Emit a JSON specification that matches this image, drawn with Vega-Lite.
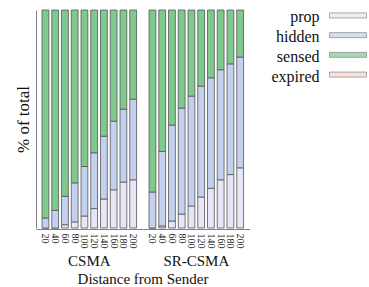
{
  "$schema": "https://vega.github.io/schema/vega-lite/v6.json",
  "padding": {"left": 14, "top": 8, "right": 0, "bottom": 0},
  "config": {
    "font": "Liberation Serif",
    "view": {"stroke": null},
    "axis": {"domainColor": "#808080", "domainWidth": 1, "labelColor": "#222", "titleColor": "#111", "titleFontWeight": "normal"}
  },
  "datasets": {
    "bars": [
      {"protocol": "CSMA", "distance": 20, "category": "prop", "k": 1, "pct": 0},
      {"protocol": "CSMA", "distance": 20, "category": "hidden", "k": 2, "pct": 4.6},
      {"protocol": "CSMA", "distance": 20, "category": "sensed", "k": 3, "pct": 95.4},
      {"protocol": "CSMA", "distance": 40, "category": "prop", "k": 1, "pct": 0},
      {"protocol": "CSMA", "distance": 40, "category": "hidden", "k": 2, "pct": 8.1},
      {"protocol": "CSMA", "distance": 40, "category": "sensed", "k": 3, "pct": 91.9},
      {"protocol": "CSMA", "distance": 60, "category": "prop", "k": 1, "pct": 1.5},
      {"protocol": "CSMA", "distance": 60, "category": "hidden", "k": 2, "pct": 13.0},
      {"protocol": "CSMA", "distance": 60, "category": "sensed", "k": 3, "pct": 85.5},
      {"protocol": "CSMA", "distance": 80, "category": "prop", "k": 1, "pct": 2.8},
      {"protocol": "CSMA", "distance": 80, "category": "hidden", "k": 2, "pct": 17.9},
      {"protocol": "CSMA", "distance": 80, "category": "sensed", "k": 3, "pct": 79.3},
      {"protocol": "CSMA", "distance": 100, "category": "prop", "k": 1, "pct": 5.5},
      {"protocol": "CSMA", "distance": 100, "category": "hidden", "k": 2, "pct": 22.7},
      {"protocol": "CSMA", "distance": 100, "category": "sensed", "k": 3, "pct": 71.8},
      {"protocol": "CSMA", "distance": 120, "category": "prop", "k": 1, "pct": 8.9},
      {"protocol": "CSMA", "distance": 120, "category": "hidden", "k": 2, "pct": 25.6},
      {"protocol": "CSMA", "distance": 120, "category": "sensed", "k": 3, "pct": 65.5},
      {"protocol": "CSMA", "distance": 140, "category": "prop", "k": 1, "pct": 13.3},
      {"protocol": "CSMA", "distance": 140, "category": "hidden", "k": 2, "pct": 28.8},
      {"protocol": "CSMA", "distance": 140, "category": "sensed", "k": 3, "pct": 57.9},
      {"protocol": "CSMA", "distance": 160, "category": "prop", "k": 1, "pct": 17.5},
      {"protocol": "CSMA", "distance": 160, "category": "hidden", "k": 2, "pct": 31.5},
      {"protocol": "CSMA", "distance": 160, "category": "sensed", "k": 3, "pct": 51.0},
      {"protocol": "CSMA", "distance": 180, "category": "prop", "k": 1, "pct": 21.1},
      {"protocol": "CSMA", "distance": 180, "category": "hidden", "k": 2, "pct": 33.4},
      {"protocol": "CSMA", "distance": 180, "category": "sensed", "k": 3, "pct": 45.5},
      {"protocol": "CSMA", "distance": 200, "category": "prop", "k": 1, "pct": 22.1},
      {"protocol": "CSMA", "distance": 200, "category": "hidden", "k": 2, "pct": 37.0},
      {"protocol": "CSMA", "distance": 200, "category": "sensed", "k": 3, "pct": 40.9},
      {"protocol": "SR-CSMA", "distance": 20, "category": "prop", "k": 1, "pct": 0},
      {"protocol": "SR-CSMA", "distance": 20, "category": "hidden", "k": 2, "pct": 16.5},
      {"protocol": "SR-CSMA", "distance": 20, "category": "sensed", "k": 3, "pct": 83.5},
      {"protocol": "SR-CSMA", "distance": 40, "category": "prop", "k": 1, "pct": 0.9},
      {"protocol": "SR-CSMA", "distance": 40, "category": "hidden", "k": 2, "pct": 34.2},
      {"protocol": "SR-CSMA", "distance": 40, "category": "sensed", "k": 3, "pct": 64.9},
      {"protocol": "SR-CSMA", "distance": 60, "category": "prop", "k": 1, "pct": 3.2},
      {"protocol": "SR-CSMA", "distance": 60, "category": "hidden", "k": 2, "pct": 44.0},
      {"protocol": "SR-CSMA", "distance": 60, "category": "sensed", "k": 3, "pct": 52.8},
      {"protocol": "SR-CSMA", "distance": 80, "category": "prop", "k": 1, "pct": 6.4},
      {"protocol": "SR-CSMA", "distance": 80, "category": "hidden", "k": 2, "pct": 48.6},
      {"protocol": "SR-CSMA", "distance": 80, "category": "sensed", "k": 3, "pct": 45.0},
      {"protocol": "SR-CSMA", "distance": 100, "category": "prop", "k": 1, "pct": 10.1},
      {"protocol": "SR-CSMA", "distance": 100, "category": "hidden", "k": 2, "pct": 50.4},
      {"protocol": "SR-CSMA", "distance": 100, "category": "sensed", "k": 3, "pct": 39.5},
      {"protocol": "SR-CSMA", "distance": 120, "category": "prop", "k": 1, "pct": 14.2},
      {"protocol": "SR-CSMA", "distance": 120, "category": "hidden", "k": 2, "pct": 50.9},
      {"protocol": "SR-CSMA", "distance": 120, "category": "sensed", "k": 3, "pct": 34.9},
      {"protocol": "SR-CSMA", "distance": 140, "category": "prop", "k": 1, "pct": 18.2},
      {"protocol": "SR-CSMA", "distance": 140, "category": "hidden", "k": 2, "pct": 50.7},
      {"protocol": "SR-CSMA", "distance": 140, "category": "sensed", "k": 3, "pct": 31.1},
      {"protocol": "SR-CSMA", "distance": 160, "category": "prop", "k": 1, "pct": 22.1},
      {"protocol": "SR-CSMA", "distance": 160, "category": "hidden", "k": 2, "pct": 50.5},
      {"protocol": "SR-CSMA", "distance": 160, "category": "sensed", "k": 3, "pct": 27.4},
      {"protocol": "SR-CSMA", "distance": 180, "category": "prop", "k": 1, "pct": 24.5},
      {"protocol": "SR-CSMA", "distance": 180, "category": "hidden", "k": 2, "pct": 50.8},
      {"protocol": "SR-CSMA", "distance": 180, "category": "sensed", "k": 3, "pct": 24.7},
      {"protocol": "SR-CSMA", "distance": 200, "category": "prop", "k": 1, "pct": 27.6},
      {"protocol": "SR-CSMA", "distance": 200, "category": "hidden", "k": 2, "pct": 50.8},
      {"protocol": "SR-CSMA", "distance": 200, "category": "sensed", "k": 3, "pct": 21.6}
    ],
    "legend": [
      {"category": "prop"},
      {"category": "hidden"},
      {"category": "sensed"},
      {"category": "expired"}
    ]
  },
  "spacing": 21,
  "hconcat": [
    {
      "data": {"name": "bars"},
      "facet": {
        "column": {
          "field": "protocol",
          "type": "nominal",
          "sort": ["CSMA", "SR-CSMA"],
          "title": "Distance from Sender",
          "header": {
            "labelOrient": "bottom",
            "titleOrient": "bottom",
            "labelFontSize": 15,
            "titleFontSize": 15,
            "labelColor": "#111",
            "titleColor": "#111",
            "titleFontWeight": "normal",
            "labelPadding": 6,
            "titlePadding": -7
          }
        }
      },
      "spacing": 0,
      "spec": {
        "width": 106.6,
        "height": 218,
        "mark": {"type": "bar", "stroke": "#555555", "strokeWidth": 0.8},
        "encoding": {
          "x": {
            "field": "distance",
            "type": "ordinal",
            "scale": {"paddingInner": 0.3, "paddingOuter": 0.62},
            "axis": {"title": null, "labelAngle": 90, "ticks": false, "labelFontSize": 10, "labelPadding": 4}
          },
          "y": {
            "field": "pct",
            "type": "quantitative",
            "stack": "zero",
            "scale": {"domain": [0, 100], "nice": false},
            "axis": {"title": "% of total", "titleFontSize": 17, "labels": false, "ticks": false, "grid": false, "titlePadding": 4}
          },
          "color": {
            "field": "category",
            "type": "nominal",
            "scale": {"domain": ["prop", "hidden", "sensed", "expired"], "range": ["#e6e6f6", "#c3d1ee", "#7fc98f", "#f9d3d0"]},
            "legend": null
          },
          "order": {"field": "k", "type": "quantitative"}
        }
      }
    },
    {
      "data": {"name": "legend"},
      "width": 38,
      "height": 74,
      "mark": {"type": "tick", "orient": "horizontal", "size": 37, "thickness": 5, "stroke": "#666666", "strokeWidth": 0.8, "yOffset": -2},
      "encoding": {
        "y": {
          "field": "category",
          "type": "nominal",
          "sort": ["prop", "hidden", "sensed", "expired"],
          "scale": {"paddingOuter": 0},
          "axis": {"title": null, "ticks": false, "domain": false, "labelFontSize": 16, "labelPadding": 10, "labelColor": "#111"}
        },
        "color": {
          "field": "category",
          "type": "nominal",
          "scale": {"domain": ["prop", "hidden", "sensed", "expired"], "range": ["#e6e6f6", "#c3d1ee", "#7fc98f", "#f9d3d0"]},
          "legend": null
        }
      }
    }
  ]
}
